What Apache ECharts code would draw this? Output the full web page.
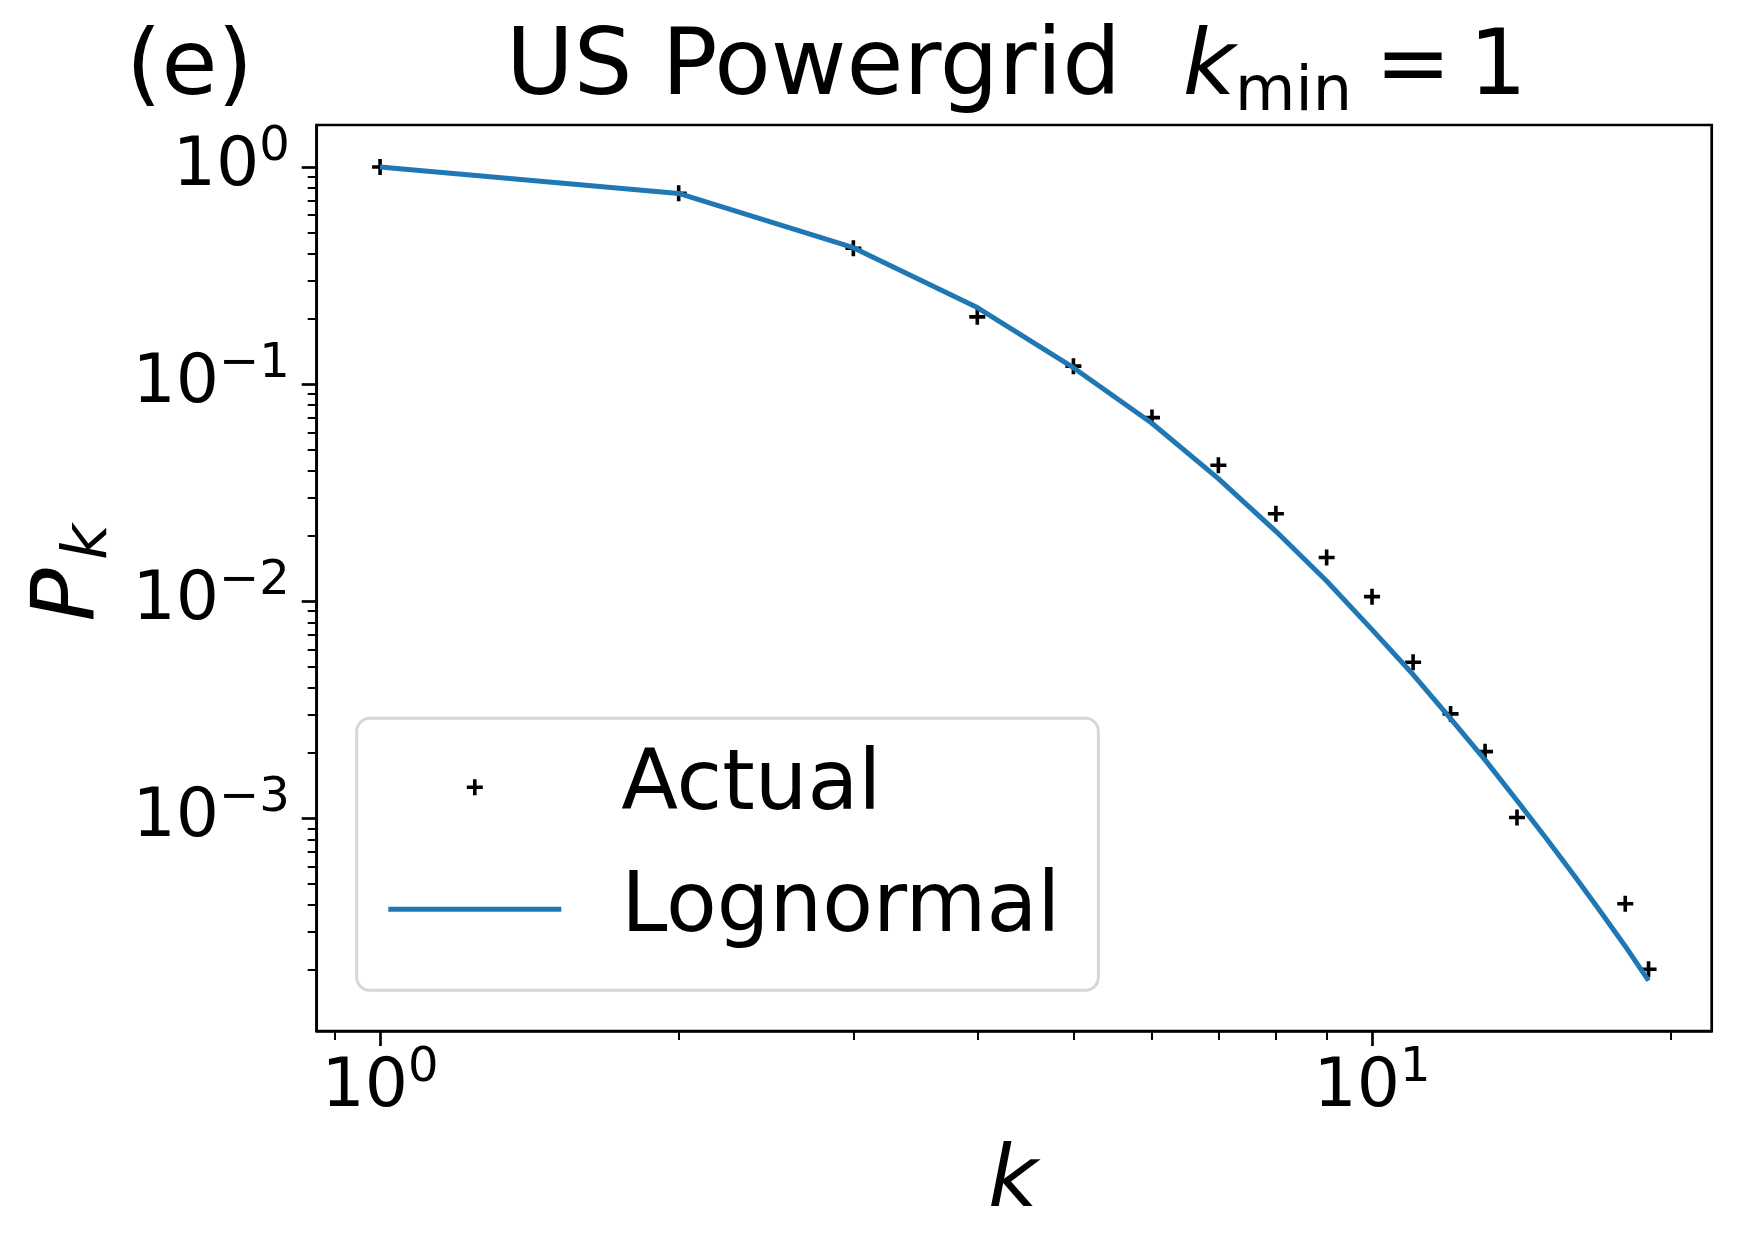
<!DOCTYPE html>
<html>
<head>
<meta charset="utf-8">
<script src="https://cdn.jsdelivr.net/npm/echarts@6/dist/echarts.min.js"></script>
<style>
html, body { margin: 0; padding: 0; background: #fff; }
#chart { width: 1741px; height: 1260px; }
</style>
</head>
<body>
<div id="chart"></div>
<script>
// degree k and complementary distribution P_k
var actualK = [1, 2, 3, 4, 5, 6, 7, 8, 9, 10, 11, 12, 13, 14, 18, 19];
var actualP = [1.0, 0.757, 0.422, 0.204, 0.121, 0.0701, 0.0423, 0.0253, 0.0159, 0.0105,
               0.00524, 0.00303, 0.00203, 0.00101, 0.000405, 0.000202];

// lognormal fit
var fitK = [1, 2, 3, 4, 5, 6, 7, 8, 9, 10, 11, 12, 13, 14, 15, 16, 17, 18, 19];
var fitP = [1.0, 0.755, 0.425, 0.225, 0.119, 0.066, 0.0367, 0.0210, 0.0124, 0.0074,
            0.00460, 0.00288, 0.00186, 0.00121, 0.000804, 0.000543, 0.000372, 0.000258, 0.000179];

// ticks
var xMajorTicks = [1, 10];
var xMinorTicks = [0.9, 2, 3, 4, 5, 6, 7, 8, 9, 20];
var yMajorTicks = [0.001, 0.01, 0.1, 1];
var yMinorTicks = [0.0002, 0.0003, 0.0004, 0.0005, 0.0006, 0.0007, 0.0008, 0.0009,
                   0.002, 0.003, 0.004, 0.005, 0.006, 0.007, 0.008, 0.009,
                   0.02, 0.03, 0.04, 0.05, 0.06, 0.07, 0.08, 0.09,
                   0.2, 0.3, 0.4, 0.5, 0.6, 0.7, 0.8, 0.9];

var FONT = 'DejaVu Sans';
var plusPath = 'path://M0,6.2H16V9.8H0Z M6.2,0H9.8V16H6.2Z';
var linePath = 'path://M0,0H173V5H0Z';

function powLabel(value) {
    var e = Math.round(Math.log10(value));
    return '{b|10}{s|' + (e < 0 ? '\u2212' + (-e) : e) + '}';
}
var labelRich = {
    b: {fontSize: 68, lineHeight: 87, fontFamily: FONT, color: '#000', verticalAlign: 'middle'},
    s: {fontSize: 48, lineHeight: 48, fontFamily: FONT, color: '#000', verticalAlign: 'top'}
};

var chart = echarts.init(document.getElementById('chart'));
chart.setOption({
    backgroundColor: '#fff',
    animation: false,
    grid: {
        left: 316.7,
        right: 29.3,
        top: 125,
        bottom: 229,
        show: true,
        borderColor: '#000',
        borderWidth: 2.7,
        backgroundColor: 'transparent'
    },
    xAxis: [
        {
            type: 'log',
            position: 'bottom',
            min: 0.8632,
            max: 22.0,
            axisLine: {show: true, onZero: false, lineStyle: {color: '#000', width: 2.7}},
            axisTick: {show: true, length: 15, lineStyle: {color: '#000', width: 2.7}, customValues: xMajorTicks},
            axisLabel: {customValues: xMajorTicks, margin: 14, formatter: powLabel, rich: labelRich},
            splitLine: {show: false},
            minorTick: {show: false}
        },
        {
            type: 'log',
            position: 'bottom',
            min: 0.8632,
            max: 22.0,
            axisLine: {show: false},
            axisTick: {show: true, length: 9, lineStyle: {color: '#000', width: 2}, customValues: xMinorTicks},
            axisLabel: {show: false},
            splitLine: {show: false}
        }
    ],
    yAxis: [
        {
            type: 'log',
            position: 'left',
            min: 0.000105,
            max: 1.56,
            axisLine: {show: true, onZero: false, lineStyle: {color: '#000', width: 2.7}},
            axisTick: {show: true, length: 15, lineStyle: {color: '#000', width: 2.7}, customValues: yMajorTicks},
            axisLabel: {customValues: yMajorTicks, margin: 27, formatter: powLabel, rich: labelRich},
            splitLine: {show: false},
            minorTick: {show: false}
        },
        {
            type: 'log',
            position: 'left',
            min: 0.000105,
            max: 1.56,
            axisLine: {show: false},
            axisTick: {show: true, length: 9, lineStyle: {color: '#000', width: 2}, customValues: yMinorTicks},
            axisLabel: {show: false},
            splitLine: {show: false}
        }
    ],
    legend: {
        orient: 'vertical',
        align: 'left',
        left: 356.7,
        top: 718.3,
        itemWidth: 173,
        itemHeight: 16,
        itemGap: 22,
        padding: [19, 38, 31, 31.6],
        backgroundColor: '#fff',
        borderColor: '#d6d6d6',
        borderWidth: 3,
        borderRadius: 13,
        textStyle: {fontSize: 83, lineHeight: 100, fontFamily: FONT, color: '#000', padding: [0, 0, 0, 55]},
        data: [
            {name: 'Actual', icon: plusPath, itemStyle: {color: '#000', opacity: 1}},
            {name: 'Lognormal', icon: linePath, itemStyle: {color: '#1f77b4'}}
        ]
    },
    graphic: [
        {type: 'text', x: 126, y: 70.2, style: {text: '(e)', fontSize: 91, fontFamily: FONT, fill: '#000', align: 'left', verticalAlign: 'middle'}},
        {type: 'text', x: 1121, y: 70.2, style: {text: 'US Powergrid', fontSize: 92.5, fontFamily: FONT, fill: '#000', align: 'right', verticalAlign: 'middle'}},
        {type: 'text', x: 1209, y: 70.2, style: {text: 'k', fontSize: 91, fontStyle: 'italic', fontFamily: FONT, fill: '#000', align: 'center', verticalAlign: 'middle'}},
        {type: 'text', x: 1293.5, y: 93.5, style: {text: 'min', fontSize: 62, fontFamily: FONT, fill: '#000', align: 'center', verticalAlign: 'middle'}},
        {type: 'text', x: 1413, y: 70.2, style: {text: '=', fontSize: 91, fontFamily: FONT, fill: '#000', align: 'center', verticalAlign: 'middle'}},
        {type: 'text', x: 1498, y: 70.2, style: {text: '1', fontSize: 91, fontFamily: FONT, fill: '#000', align: 'center', verticalAlign: 'middle'}},
        {type: 'text', x: 1013, y: 1184, style: {text: 'k', fontSize: 86, fontStyle: 'italic', fontFamily: FONT, fill: '#000', align: 'center', verticalAlign: 'middle'}},
        {type: 'text', x: 71.6, y: 595, rotation: Math.PI / 2, style: {text: 'P', fontSize: 88, fontStyle: 'italic', fontFamily: FONT, fill: '#000', align: 'center', verticalAlign: 'middle'}},
        {type: 'text', x: 89.5, y: 542, rotation: Math.PI / 2, style: {text: 'k', fontSize: 62, fontStyle: 'italic', fontFamily: FONT, fill: '#000', align: 'center', verticalAlign: 'middle'}}
    ],
    series: [
        {
            name: 'Actual',
            type: 'scatter',
            symbol: plusPath,
            symbolSize: 16,
            itemStyle: {color: '#000', opacity: 1},
            z: 2,
            data: actualK.map(function (k, i) { return [k, actualP[i]]; })
        },
        {
            name: 'Lognormal',
            type: 'line',
            symbol: 'none',
            lineStyle: {color: '#1f77b4', width: 5},
            itemStyle: {color: '#1f77b4'},
            z: 3,
            data: fitK.map(function (k, i) { return [k, fitP[i]]; })
        }
    ]
});
</script>
</body>
</html>
